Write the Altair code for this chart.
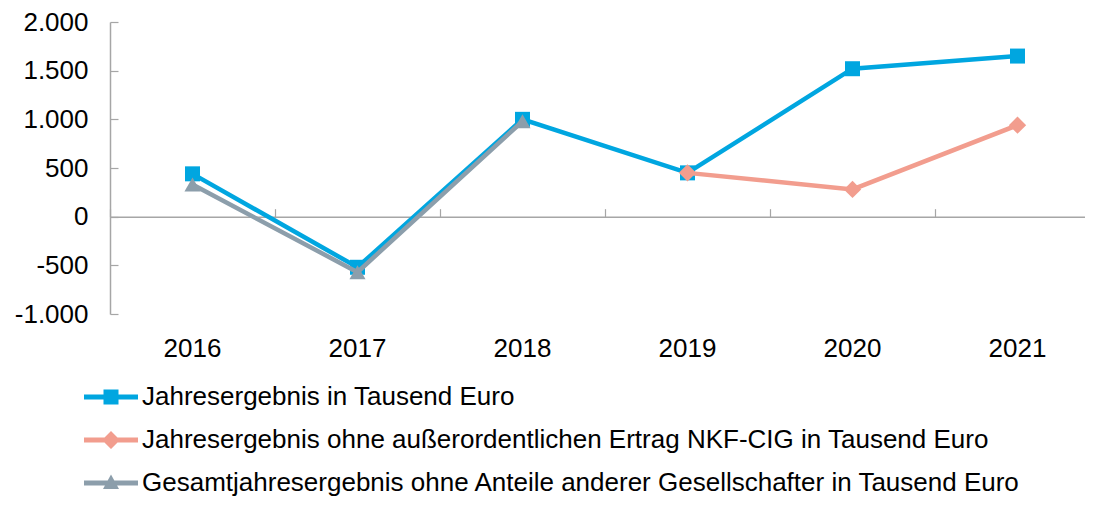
import altair as alt
import pandas as pd

years = ["2016", "2017", "2018", "2019", "2020", "2021"]
series_names = [
    "Jahresergebnis in Tausend Euro",
    "Jahresergebnis ohne außerordentlichen Ertrag NKF-CIG in Tausend Euro",
    "Gesamtjahresergebnis ohne Anteile anderer Gesellschafter in Tausend Euro",
]
jahres = [440, -520, 1000, 450, 1520, 1650]
ohne_nkf = [None, None, None, 450, 280, 940]
gesamt = [330, -570, 980, None, None, None]
colors = ["#00A6E0", "#F29D8E", "#8C9EAB"]
marker_shapes = ["square", "diamond", "triangle-up"]
marker_sizes = [225, 300, 260]
y_ticks = [-1000, -500, 0, 500, 1000, 1500, 2000]

legend_paths = [
    "M-2.7,-0.25H2.7V0.25H-2.7Z M-0.75,-0.75H0.75V0.75H-0.75Z",
    "M-2.7,-0.25H2.7V0.25H-2.7Z M0,-0.9L0.9,0L0,0.9L-0.9,0Z",
    "M-2.7,-0.25H2.7V0.25H-2.7Z M0,-0.85L0.8,0.6L-0.8,0.6Z",
]

rows = []
for name, vals in zip(series_names, [jahres, ohne_nkf, gesamt]):
    for y, v in zip(years, vals):
        if v is not None:
            rows.append({"year": y, "series": name, "value": v})
df = pd.DataFrame(rows)

W, H = 975, 292
FONT = "Liberation Sans"
GRAY = "#A6A6A6"

x_scale = alt.Scale(type="band", domain=years, range=[0, 990], paddingInner=0, paddingOuter=0)
y_scale = alt.Scale(domain=[-1000, 2000], nice=False, zero=False)


def xenc(axis):
    return alt.X("year:O", bandPosition=0.5, scale=x_scale, axis=axis)


def yenc(axis):
    return alt.Y("value:Q", scale=y_scale, axis=axis)


label_expr = "(datum.value < 0 ? '-' : '') + replace(format(abs(datum.value), ','), ',', '.')"

base = alt.Chart(df)

axis_labels = base.mark_point(opacity=0).encode(
    x=xenc(alt.Axis(orient="bottom", title=None, domain=False, ticks=False, tickSize=0,
                    labelFontSize=26, labelColor="#000000", labelFont=FONT, labelPadding=21,
                    labelAngle=0)),
    y=yenc(alt.Axis(orient="left", title=None, values=y_ticks, domain=True, domainColor=GRAY,
                    domainWidth=1.5, ticks=False, tickSize=0, labelFontSize=26,
                    labelColor="#000000", labelFont=FONT, labelPadding=22, labelExpr=label_expr,
                    grid=False)),
)

axis_ticks = base.mark_point(opacity=0).encode(
    x=xenc(alt.Axis(orient="top", offset=-H * 2000 / 3000, title=None, labels=False,
                    domain=True, domainColor=GRAY, domainWidth=1.5, ticks=True, tickSize=8,
                    tickColor=GRAY, tickWidth=1.2, tickBand="extent")),
    y=yenc(alt.Axis(orient="right", offset=-W, title=None, labels=False, values=y_ticks,
                    domain=False, ticks=True, tickSize=8, tickColor=GRAY, tickWidth=1.2,
                    grid=False)),
)

layers = [axis_labels, axis_ticks]
for name, col, shp, sz in zip(series_names, colors, marker_shapes, marker_sizes):
    sub = base.transform_filter(alt.datum.series == name)
    layers.append(sub.mark_line(color=col, strokeWidth=4.5).encode(x=xenc(None), y=yenc(None)))
    layers.append(sub.mark_point(shape=shp, size=sz, filled=True, color=col, opacity=1)
                  .encode(x=xenc(None), y=yenc(None)))

# legend-only layer: no rows drawn, entries come from the explicit scale domains
legend_layer = base.transform_filter("false").mark_point(opacity=1, filled=True).encode(
    x=xenc(None),
    y=yenc(None),
    color=alt.Color("series:N", scale=alt.Scale(domain=series_names, range=colors),
                    legend=alt.Legend(title=None, orient="none", legendX=-12, legendY=362,
                                      direction="vertical", labelFontSize=26,
                                      labelColor="#000000", labelFont=FONT, symbolSize=400,
                                      symbolStrokeWidth=0, symbolOpacity=1, labelOffset=18,
                                      rowPadding=17, padding=0, labelLimit=0)),
    shape=alt.Shape("series:N", scale=alt.Scale(domain=series_names, range=legend_paths)),
)
layers.append(legend_layer)

chart = alt.layer(*layers).resolve_axis(x="independent", y="independent").properties(
    width=W, height=H,
    autosize=alt.AutoSizeParams(type="none"),
    padding={"left": 102, "top": 14, "right": 0, "bottom": 184},
).configure(font=FONT).configure_view(stroke=None)

chart.save("out.html", embed_options={"renderer": "svg", "actions": False})
